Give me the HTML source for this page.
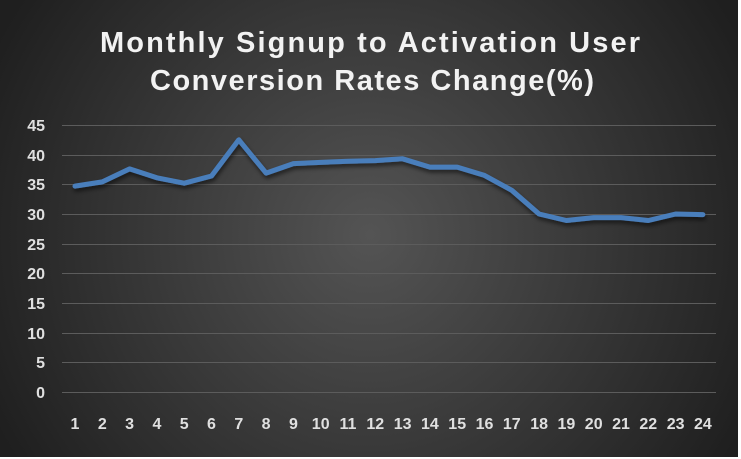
<!DOCTYPE html>
<html><head><style>
html,body{margin:0;padding:0;background:#fff;}
svg{display:block;}
</style></head><body>
<svg width="741" height="459" viewBox="0 0 741 459" xmlns="http://www.w3.org/2000/svg">
<defs>
<radialGradient id="bg" cx="370" cy="235" r="420" gradientUnits="userSpaceOnUse">
<stop offset="0" stop-color="#545454"/>
<stop offset="1" stop-color="#1f1f1f"/>
</radialGradient>
<filter id="sh" x="-5%" y="-20%" width="110%" height="140%">
<feDropShadow dx="1" dy="3" stdDeviation="2" flood-color="#000" flood-opacity="0.55"/>
</filter>
</defs>
<rect x="0" y="0" width="738" height="457" fill="url(#bg)"/>
<g font-family="Liberation Sans, sans-serif" font-weight="bold" fill="#f2f2f2" font-size="29" text-anchor="middle">
<text x="370" y="52" textLength="540" lengthAdjust="spacing">Monthly Signup to Activation User</text>
<text x="372" y="90" textLength="444" lengthAdjust="spacing">Conversion Rates Change(%)</text>
</g>
<g stroke="#5c5c5c" stroke-width="1">
<line x1="62" x2="716" y1="125.5" y2="125.5"/>
<line x1="62" x2="716" y1="155.5" y2="155.5"/>
<line x1="62" x2="716" y1="184.5" y2="184.5"/>
<line x1="62" x2="716" y1="214.5" y2="214.5"/>
<line x1="62" x2="716" y1="244.5" y2="244.5"/>
<line x1="62" x2="716" y1="273.5" y2="273.5"/>
<line x1="62" x2="716" y1="303.5" y2="303.5"/>
<line x1="62" x2="716" y1="333.5" y2="333.5"/>
<line x1="62" x2="716" y1="362.5" y2="362.5"/>
<line x1="62" x2="716" y1="392.5" y2="392.5"/>
</g>
<g font-family="Liberation Sans, sans-serif" fill="#e0e0e0" font-size="16" font-weight="bold" text-anchor="end">
<text x="45" y="131">45</text><text x="45" y="161">40</text><text x="45" y="190">35</text>
<text x="45" y="220">30</text><text x="45" y="250">25</text><text x="45" y="279">20</text>
<text x="45" y="309">15</text><text x="45" y="339">10</text><text x="45" y="368">5</text>
<text x="45" y="398">0</text>
</g>
<g font-family="Liberation Sans, sans-serif" fill="#e0e0e0" font-size="16" font-weight="bold" text-anchor="middle">
<text x="75" y="429">1</text><text x="102.3" y="429">2</text><text x="129.6" y="429">3</text><text x="156.9" y="429">4</text>
<text x="184.2" y="429">5</text><text x="211.5" y="429">6</text><text x="238.8" y="429">7</text><text x="266.1" y="429">8</text>
<text x="293.4" y="429">9</text><text x="320.7" y="429">10</text><text x="348" y="429">11</text><text x="375.3" y="429">12</text>
<text x="402.6" y="429">13</text><text x="429.9" y="429">14</text><text x="457.2" y="429">15</text><text x="484.5" y="429">16</text>
<text x="511.8" y="429">17</text><text x="539.1" y="429">18</text><text x="566.4" y="429">19</text><text x="593.7" y="429">20</text>
<text x="621" y="429">21</text><text x="648.3" y="429">22</text><text x="675.6" y="429">23</text><text x="702.9" y="429">24</text>
</g>
<polyline filter="url(#sh)" fill="none" stroke="#4a7ebb" stroke-width="5" stroke-linejoin="round" stroke-linecap="round"
points="75,186.1 102.3,181.9 129.6,168.9 156.9,177.8 184.2,183.2 211.5,176.0 238.8,139.8 266.1,173.1 293.4,163.6 320.7,162.4 348,161.2 375.3,160.6 402.6,158.8 429.9,167.1 457.2,167.1 484.5,175.4 511.8,190.3 539.1,214.0 566.4,220.5 593.7,217.6 621,217.6 648.3,220.5 675.6,214.0 702.9,214.6"/>
</svg>
</body></html>
